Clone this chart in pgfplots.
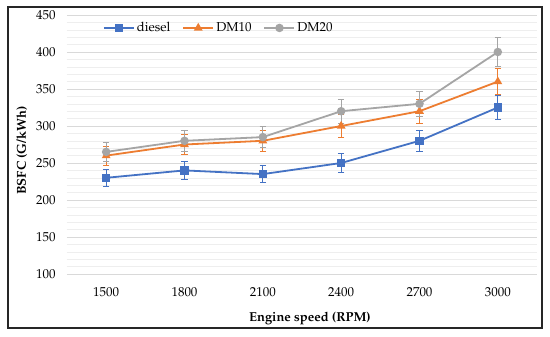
\documentclass[border=0pt]{standalone}
\usepackage[T1]{fontenc}
\usepackage{mathpazo}
\usepackage{pgfplots}
\pgfplotsset{compat=1.18}
\definecolor{cdiesel}{HTML}{4472C4}
\definecolor{cdm10}{HTML}{ED7D31}
\definecolor{cdm20}{HTML}{A5A5A5}
\definecolor{gmaj}{HTML}{D9D9D9}
\definecolor{gmin}{HTML}{EEEEEE}
\begin{document}
\begin{tikzpicture}[x=1bp,y=1bp]
\fill[white] (-67bp,-63bp) rectangle (483bp,274bp);
\draw[line width=1.4bp, black!85] (-59bp,-54bp) rectangle (475bp,267bp);
\begin{axis}[
  at={(0,0)}, anchor=south west,
  scale only axis, width=470bp, height=259bp,
  xmin=-0.5, xmax=5.5, ymin=100, ymax=450,
  xtick={0,1,2,3,4,5},
  xticklabels={1500,1800,2100,2400,2700,3000},
  ytick={100,150,...,450},
  minor y tick num=4,
  ymajorgrids, yminorgrids,
  major grid style={gmaj, line width=0.8bp},
  minor grid style={gmin, line width=0.6bp},
  axis line style={draw=none},
  major tick style={draw=none}, minor tick style={draw=none},
  tick label style={font=\fontsize{13}{15}\selectfont},
  /pgf/number format/assume math mode=true,
  yticklabel style={xshift=-8bp},
  xticklabel style={yshift=-10bp},
  xlabel={\textbf{Engine speed (RPM)}},
  ylabel={\textbf{BSFC (G/kWh)}},
  label style={font=\fontsize{13}{15}\selectfont},
  xlabel style={yshift=-9bp, xshift=8bp},
  ylabel style={yshift=2bp, xshift=-6bp},
  legend columns=3,
  legend style={at={(0.323,0.95)}, anchor=center, draw=none, fill=none,
    font=\fontsize{13}{15}\selectfont,
    /tikz/every even column/.append style={column sep=10bp}},
  legend image code/.code={
    \draw[#1, line width=2bp] (0bp,0bp) -- (30bp,0bp);
    \draw[#1, only marks] plot coordinates {(15bp,0bp)};
  },
  every axis plot/.append style={line width=1.8bp},
  error bars/y dir=both, error bars/y explicit,
  error bars/error bar style={line width=0.9bp},
  error bars/error mark options={rotate=90, mark size=3.2bp, line width=0.9bp},
]
\addplot[color=cdiesel, mark=square*, mark size=3.3bp] coordinates {
  (0,230) +- (0,11.5)
  (1,240) +- (0,12)
  (2,235) +- (0,11.75)
  (3,250) +- (0,12.5)
  (4,280) +- (0,14)
  (5,325) +- (0,16.25)
};
\addlegendentry{diesel}
\addplot[color=cdm10, mark=triangle*, mark size=3.3bp] coordinates {
  (0,260) +- (0,13)
  (1,275) +- (0,13.75)
  (2,280) +- (0,14)
  (3,300) +- (0,15)
  (4,320) +- (0,16)
  (5,360) +- (0,18)
};
\addlegendentry{DM10}
\addplot[color=cdm20, mark=*, mark size=3.3bp] coordinates {
  (0,265) +- (0,13.25)
  (1,280) +- (0,14)
  (2,285) +- (0,14.25)
  (3,320) +- (0,16)
  (4,330) +- (0,16.5)
  (5,400) +- (0,20)
};
\addlegendentry{DM20}
\end{axis}
\end{tikzpicture}
\end{document}
